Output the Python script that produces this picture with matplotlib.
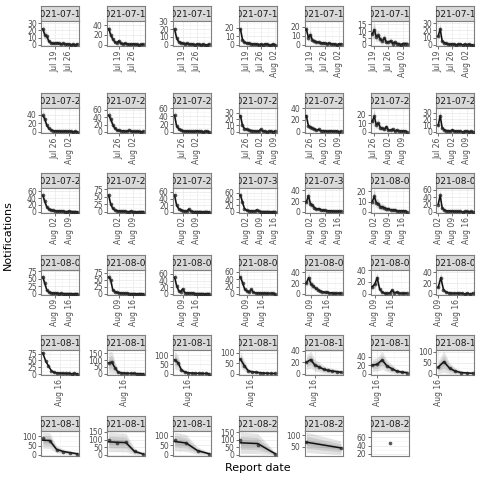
import numpy as np
import pandas as pd
import matplotlib
matplotlib.use("Agg")
import matplotlib.pyplot as plt
import matplotlib.dates as mdates
from matplotlib.ticker import MaxNLocator, AutoMinorLocator

# reference dates (one panel each) and last report date
ref_dates = pd.date_range("2021-07-13", "2021-08-22", freq="D")
last_report = pd.Timestamp("2021-08-22")
max_delay = 17

# observed notifications by report date (delay 0, 1, 2, ...)
obs = [
    [22, 14, 12, 5, 3, 2, 2, 3, 2, 1, 2, 1, 1, 1, 0, 1, 0, 1],
    [33, 20, 12, 6, 4, 8, 3, 2, 3, 2, 1, 1, 2, 1, 1, 0, 1, 1],
    [20, 9, 4, 3, 2, 1, 2, 1, 1, 1, 0, 1, 1, 0, 1, 0, 0, 1],
    [18, 6, 3, 2, 2, 1, 1, 1, 1, 0, 1, 0, 1, 1, 0, 0, 1, 0],
    [17, 8, 11, 5, 4, 3, 3, 2, 2, 2, 1, 2, 1, 1, 1, 0, 1, 1],
    [8, 11, 6, 7, 4, 3, 5, 2, 2, 3, 1, 2, 1, 1, 0, 1, 1, 1],
    [12, 22, 5, 3, 2, 1, 1, 1, 1, 0, 1, 1, 0, 1, 0, 1, 0, 0],
    [38, 30, 15, 8, 5, 3, 2, 2, 2, 1, 1, 2, 1, 1, 1, 0, 1, 0],
    [45, 35, 20, 10, 5, 4, 3, 3, 2, 2, 4, 2, 1, 1, 1, 1, 0, 1],
    [42, 15, 8, 5, 3, 2, 2, 2, 1, 1, 1, 3, 1, 1, 0, 1, 1, 0],
    [25, 10, 5, 4, 3, 2, 2, 1, 1, 1, 4, 1, 1, 0, 1, 1, 0, 1],
    [27, 10, 8, 6, 5, 3, 4, 2, 2, 2, 1, 1, 2, 1, 1, 1, 0, 1],
    [12, 18, 8, 10, 5, 4, 3, 6, 2, 2, 3, 1, 2, 1, 1, 1, 1, 0],
    [10, 25, 6, 3, 2, 2, 1, 3, 1, 1, 1, 1, 0, 1, 1, 0, 1, 0],
    [48, 30, 14, 8, 5, 4, 3, 2, 3, 2, 2, 1, 1, 2, 1, 1, 1, 0],
    [55, 25, 12, 6, 4, 3, 2, 2, 2, 1, 1, 2, 1, 1, 0, 1, 1, 1],
    [50, 20, 10, 6, 4, 3, 2, 8, 2, 1, 1, 1, 1, 1, 0, 1, 1, 0],
    [52, 30, 10, 5, 4, 3, 2, 2, 6, 2, 1, 1, 1, 1, 1, 0, 1, 1],
    [18, 30, 15, 12, 8, 5, 6, 4, 3, 3, 2, 2, 2, 1, 1, 1, 1, 1],
    [10, 15, 9, 8, 5, 5, 4, 3, 3, 2, 2, 2, 1, 1, 1, 1, 1, 0],
    [20, 45, 10, 5, 3, 2, 2, 2, 1, 1, 1, 1, 0, 1, 1, 0, 1, 0],
    [55, 35, 12, 6, 4, 3, 2, 2, 1, 2, 1, 1, 1, 1, 1, 0, 1, 1],
    [60, 50, 15, 8, 5, 4, 3, 2, 2, 2, 1, 1, 1, 1, 0, 1, 1, 0],
    [50, 25, 10, 6, 15, 4, 3, 2, 2, 2, 1, 1, 1, 1, 1, 0, 1, 1],
    [45, 30, 12, 8, 5, 12, 4, 3, 2, 2, 1, 2, 1, 1, 1, 1, 0],
    [20, 30, 18, 15, 10, 8, 5, 4, 3, 3, 2, 2, 1, 1, 1, 1],
    [12, 16, 27, 8, 3, 1, 1, 1, 6, 2, 3, 1, 1, 1, 1],
    [12, 30, 8, 3, 2, 1, 1, 1, 1, 1, 0, 1, 0, 1],
    [78, 48, 30, 12, 6, 4, 3, 3, 2, 2, 1, 2, 1],
    [80, 85, 45, 12, 8, 5, 4, 3, 3, 2, 2, 1],
    [75, 60, 20, 10, 6, 4, 3, 3, 2, 2, 1],
    [70, 40, 15, 10, 8, 6, 4, 3, 2, 2],
    [20, 25, 15, 12, 8, 6, 5, 4, 3],
    [20, 22, 32, 18, 12, 6, 4, 3],
    [30, 55, 25, 12, 6, 4, 3],
    [92, 78, 28, 18, 12, 6],
    [95, 80, 82, 22, 6],
    [75, 60, 20, 5],
    [100, 65, 8],
    [70, 45],
    [45],
]

# model median where it departs from the observations
fit_override = {
    35: [80, 78, 30, 18, 12, 6],
    36: [85, 82, 80, 22, 6],
    37: [70, 62, 22, 6],
    38: [80, 75, 8],
}

# relative width of the uncertainty ribbons per panel
spread = ([0.25] * 28
          + [0.06, 0.7, 0.45, 0.4, 0.35, 0.4, 0.6]
          + [0.4, 0.55, 0.5, 0.65, 0.45, 0.42])

W = H = 480
fig = plt.figure(figsize=(4.8, 4.8), dpi=100)

row_top = [6, 93, 173, 255, 335, 416]
strip_h = 15
panel_h = 25
col_left = 41
col_step = 65.9
panel_w = 38

border = "#7F7F7F"
ncol = 7

for i, d in enumerate(ref_dates):
    r, c = divmod(i, ncol)
    n = min(max_delay + 1, (last_report - d).days + 1)
    y = np.array(obs[i][:n], dtype=float)
    m = np.array(fit_override.get(i, obs[i][:n]), dtype=float)
    x = pd.date_range(d, periods=n, freq="D")

    x0 = col_left + c * col_step
    ytop = row_top[r]
    # strip
    sax = fig.add_axes([x0 / W, 1 - (ytop + strip_h) / H, panel_w / W, strip_h / H])
    sax.set_facecolor("#D9D9D9")
    sax.set_xticks([])
    sax.set_yticks([])
    for sp in sax.spines.values():
        sp.set_color(border)
        sp.set_linewidth(0.8)
    sax.text(0.5, 0.45, d.strftime("%Y-%m-%d"), ha="center", va="center",
             fontsize=6.5, color="#1A1A1A", transform=sax.transAxes, clip_on=True)

    ax = fig.add_axes([x0 / W, 1 - (ytop + strip_h + panel_h) / H, panel_w / W, panel_h / H])
    h = spread[i] * (m + 3 * np.sqrt(m) + 2)
    for b in [1.0, 0.6, 0.3]:
        ax.fill_between(x, np.maximum(m - b * h, 0), m + b * h,
                        color="#4D4D4D", alpha=0.15, lw=0, zorder=2)
    ax.plot(x, m, color="#111111", lw=1.1, zorder=3)
    ax.scatter(x, y, s=7, color="#222222", alpha=0.75, lw=0, zorder=4)

    lo = min(np.maximum(m - h, 0).min(), y.min())
    hi = max((m + h).max(), y.max())
    pad = 0.05 * (hi - lo)
    ax.set_ylim(lo - pad, hi + pad)
    xpad = 0.05 * (n - 1) if n > 1 else 0.5
    xa = d - pd.Timedelta(days=xpad)
    xb = x[-1] + pd.Timedelta(days=xpad)
    ax.set_xlim(xa, xb)

    # weekly breaks on Mondays, minor halfway between
    mondays = pd.date_range(xa.floor("D") - pd.Timedelta(days=7), xb, freq="W-MON")
    major = [t for t in mondays if xa <= t <= xb]
    minor = [t + pd.Timedelta(hours=84) for t in mondays
             if xa <= t + pd.Timedelta(hours=84) <= xb]
    ax.set_xticks(major)
    ax.set_xticks(minor, minor=True)
    ax.xaxis.set_major_formatter(mdates.DateFormatter("%b %d"))
    ax.yaxis.set_major_locator(MaxNLocator(nbins=4, steps=[1, 2, 2.5, 5, 10]))
    ax.yaxis.set_minor_locator(AutoMinorLocator(2))
    ax.grid(True, which="major", color="#EBEBEB", lw=0.6, zorder=0)
    ax.grid(True, which="minor", color="#F3F3F3", lw=0.4, zorder=0)
    ax.set_axisbelow(True)
    ax.tick_params(which="major", length=2, width=0.5, color="#333333",
                   labelsize=5.5, labelcolor="#4D4D4D", pad=1)
    ax.tick_params(which="minor", length=0)
    for lab in ax.get_xticklabels():
        lab.set_rotation(90)
    for sp in ax.spines.values():
        sp.set_color(border)
        sp.set_linewidth(0.8)

fig.text(8 / W, 1 - 235 / H, "Notifications", rotation=90, ha="center",
         va="center", fontsize=8)
fig.text(258 / W, 1 - 468 / H, "Report date", ha="center", va="center",
         fontsize=8)

fig.savefig("out.png", dpi=100)
